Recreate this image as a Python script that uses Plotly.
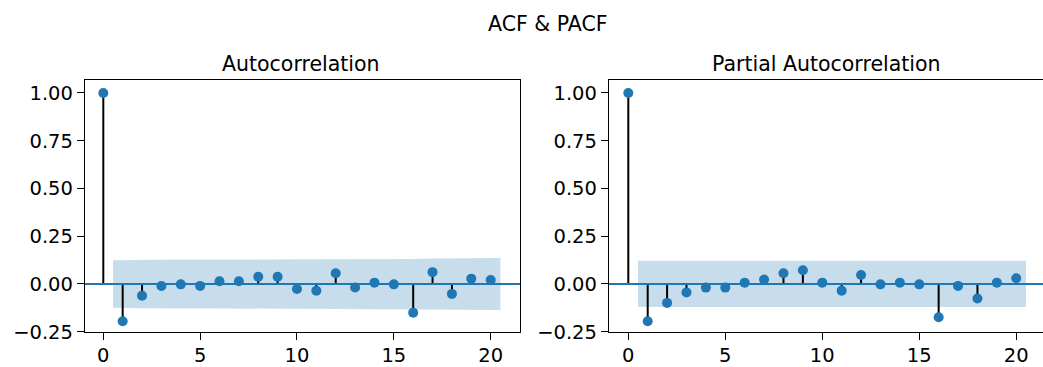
import plotly.graph_objects as go

# ---- data ----
lags = list(range(21))
acf_vals = [1.0, -0.195, -0.061, -0.011, -0.002, -0.010, 0.014, 0.014, 0.038, 0.038,
            -0.026, -0.035, 0.056, -0.018, 0.007, -0.002, -0.150, 0.062, -0.052, 0.028, 0.021]
pacf_vals = [1.0, -0.195, -0.099, -0.044, -0.019, -0.019, 0.007, 0.023, 0.056, 0.072,
             0.007, -0.035, 0.047, -0.002, 0.007, -0.002, -0.174, -0.010, -0.076, 0.007, 0.030]
# half-width of the 95% confidence band for lags 1..20
acf_band = [0.124, 0.127, 0.128, 0.128, 0.128, 0.128, 0.128, 0.128, 0.129, 0.129,
            0.129, 0.130, 0.130, 0.131, 0.131, 0.131, 0.134, 0.135, 0.135, 0.136]
pacf_band = [0.121] * 20
x_ticks = [0, 5, 10, 15, 20]
y_ticks = [-0.25, 0.0, 0.25, 0.50, 0.75, 1.00]

title = "ACF & PACF"
subtitles = ["Autocorrelation", "Partial Autocorrelation"]

BLUE = "#1f77b4"
BAND = "rgba(31,119,180,0.25)"
FONT = "DejaVu Sans"
W, H = 1043, 367
FS = 20.5
TFS = 19.5


def panel_traces(vals, band, xa, ya):
    traces = []
    # confidence band (edges extended by half a lag, like statsmodels)
    bx = [l for l in lags[1:]]
    bx[0] = bx[0] - 0.5
    bx[-1] = bx[-1] + 0.5
    traces.append(go.Scatter(
        x=bx + bx[::-1], y=band + [-b for b in band[::-1]],
        fill="toself", fillcolor=BAND, line=dict(width=0), mode="lines",
        hoverinfo="skip", showlegend=False, xaxis=xa, yaxis=ya))
    # stems
    sx, sy = [], []
    for l, v in zip(lags, vals):
        sx += [l, l, None]
        sy += [0, v, None]
    traces.append(go.Scatter(x=sx, y=sy, mode="lines",
                             line=dict(color="black", width=2),
                             showlegend=False, xaxis=xa, yaxis=ya))
    # zero line across the axes
    traces.append(go.Scatter(x=[-5, 30], y=[0, 0], mode="lines",
                             line=dict(color=BLUE, width=2),
                             showlegend=False, xaxis=xa, yaxis=ya))
    # markers
    traces.append(go.Scatter(x=lags, y=vals, mode="markers",
                             marker=dict(color=BLUE, size=10),
                             showlegend=False, xaxis=xa, yaxis=ya))
    return traces


fig = go.Figure()
for t in panel_traces(acf_vals, acf_band, "x", "y"):
    fig.add_trace(t)
for t in panel_traces(pacf_vals, pacf_band, "x2", "y2"):
    fig.add_trace(t)

ytop = 1 - 80 / H
ybot = 1 - 332.3 / H
axis_common = dict(showgrid=False, zeroline=False, showline=True, linecolor="black",
                   linewidth=1.3, ticks="outside", ticklen=7, tickwidth=1.3,
                   tickcolor="black", automargin=False,
                   tickfont=dict(family=FONT, size=TFS, color="black"))
xax = dict(axis_common, ticklabelstandoff=-2)

fig.update_layout(
    width=W, height=H,
    margin=dict(l=0, r=0, t=0, b=0),
    paper_bgcolor="white", plot_bgcolor="white",
    xaxis=dict(domain=[85 / W, 520.3 / W], range=[-0.945, 21.53], tickvals=x_ticks,
               mirror=True, anchor="y", **xax),
    yaxis=dict(domain=[ybot, ytop], range=[-0.253, 1.068], tickvals=y_ticks,
               tickformat=".2f", mirror=True, anchor="x", **axis_common),
    xaxis2=dict(domain=[609 / W, 1.0], range=[-0.995, 21.38], tickvals=x_ticks,
                mirror=True, anchor="y2", **xax),
    yaxis2=dict(domain=[ybot, ytop], range=[-0.253, 1.068], tickvals=y_ticks,
                tickformat=".2f", mirror=False, anchor="x2", **axis_common),
    annotations=[
        dict(text=title, x=548 / W, y=1 - 24 / H, xref="paper", yref="paper",
             showarrow=False, xanchor="center", yanchor="middle",
             font=dict(family=FONT, size=FS, color="black")),
        dict(text=subtitles[0], x=301 / W, y=1 - 64 / H, xref="paper", yref="paper",
             showarrow=False, xanchor="center", yanchor="middle",
             font=dict(family=FONT, size=FS, color="black")),
        dict(text=subtitles[1], x=826 / W, y=1 - 64 / H, xref="paper", yref="paper",
             showarrow=False, xanchor="center", yanchor="middle",
             font=dict(family=FONT, size=FS, color="black")),
    ],
)

fig.write_html("out.html", config={"displayModeBar": False},
               post_script="document.body.style.margin='0';document.body.style.overflow='hidden';")
